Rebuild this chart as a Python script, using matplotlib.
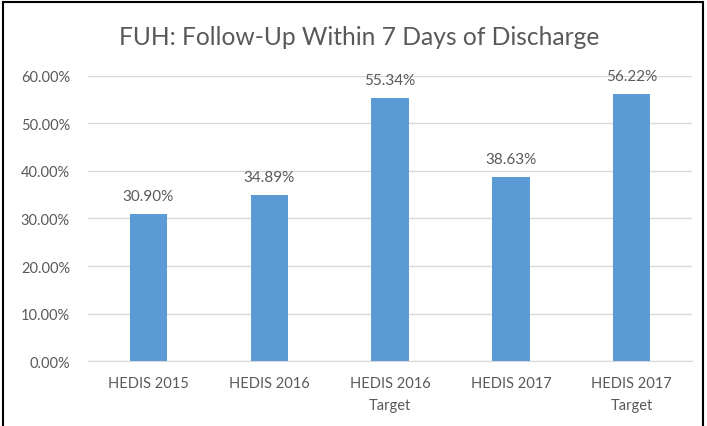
import matplotlib
matplotlib.use('Agg')
import matplotlib.pyplot as plt
from matplotlib.patches import Rectangle
from matplotlib.ticker import FuncFormatter

categories = ['HEDIS 2015', 'HEDIS 2016', 'HEDIS 2016\nTarget', 'HEDIS 2017', 'HEDIS 2017\nTarget']
values = [0.3090, 0.3489, 0.5534, 0.3863, 0.5622]
labels = ['30.90%', '34.89%', '55.34%', '38.63%', '56.22%']
yticks = [0.0, 0.1, 0.2, 0.3, 0.4, 0.5, 0.6]

plt.rcParams['font.family'] = ['Lato', 'DejaVu Sans']
text_col = '#595959'

fig = plt.figure(figsize=(7.07, 4.27), dpi=100)
ax = fig.add_axes([0.1245, 0.152, 0.8545, 0.668])

x = range(len(categories))
ax.bar(x, values, width=0.31, color='#5B9BD5', zorder=3)
for xi, v, lab in zip(x, values, labels):
    ax.annotate(lab, (xi, v), xytext=(0, 8), textcoords='offset points',
                ha='center', va='bottom', fontsize=11, color=text_col)

ax.set_xlim(-0.5, len(categories) - 0.5)
ax.set_ylim(0, 0.6)
ax.set_yticks(yticks)
ax.yaxis.set_major_formatter(FuncFormatter(lambda v, p: '%.2f%%' % (v * 100)))
ax.set_xticks(list(x))
ax.set_xticklabels(categories, linespacing=1.7)
ax.tick_params(axis='both', length=0, labelsize=10.5, labelcolor=text_col)
ax.tick_params(axis='y', pad=13)
ax.tick_params(axis='x', pad=11)
ax.grid(axis='y', color='#D9D9D9', linewidth=1, zorder=0)
for s in ['top', 'right', 'left']:
    ax.spines[s].set_visible(False)
ax.spines['bottom'].set_color('#D9D9D9')

fig.text(0.508, 0.913, 'FUH: Follow-Up Within 7 Days of Discharge',
         ha='center', va='center', fontsize=17.7, color=text_col)

fig.patches.append(Rectangle((0.004, -0.01), 0.991, 1.003, transform=fig.transFigure,
                             fill=False, edgecolor='black', linewidth=1.5))

fig.savefig('out.png', dpi=100)
